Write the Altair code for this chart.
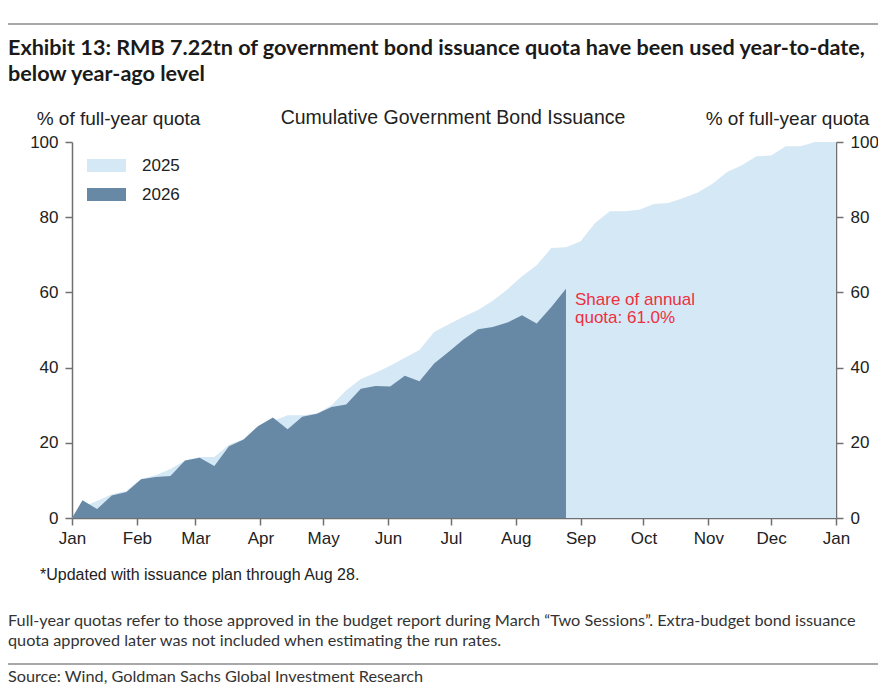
import altair as alt
import pandas as pd

# ---------------- data ----------------
week_dates = ["01-01", "01-06", "01-13", "01-20", "01-27", "02-03", "02-10", "02-17", "02-24",
              "03-03", "03-10", "03-17", "03-24", "03-31", "04-07", "04-14", "04-21", "04-28",
              "05-05", "05-12", "05-19", "05-26", "06-02", "06-09", "06-16", "06-23", "06-30",
              "07-07", "07-14", "07-21", "07-28", "08-04", "08-11", "08-18", "08-25", "09-01",
              "09-08", "09-15", "09-22", "09-29", "10-06", "10-13", "10-20", "10-27", "11-03",
              "11-10", "11-17", "11-24", "12-01", "12-08", "12-15", "12-22", "12-29"]

vals_2025 = [0, 3.0, 4.5, 6.3, 7.2, 10.4, 11.4, 13.0, 15.3,
             16.2, 16.2, 19.5, 21.0, 24.5, 25.8, 27.3, 27.3, 27.8,
             30.0, 34.0, 37.0, 38.6, 40.5, 42.6, 44.7, 49.5, 51.5,
             53.5, 55.3, 57.8, 60.8, 64.3, 67.2, 71.8, 72.0, 73.6,
             78.5, 81.6, 81.6, 82.0, 83.5, 83.8, 85.1, 86.6, 88.9,
             92.0, 93.8, 96.2, 96.4, 98.9, 98.9, 100.0, 100.0,
             100.0]  # last value: Jan 1 of the following year

vals_2026 = [0, 4.7, 2.4, 6.0, 6.9, 10.3, 10.9, 11.2, 15.3,
             16.0, 13.8, 19.1, 20.9, 24.5, 26.7, 23.6, 26.9, 27.7,
             29.5, 30.2, 34.4, 35.1, 35.0, 37.8, 36.4, 41.1, 44.2,
             47.5, 50.2, 50.8, 52.0, 53.9, 51.7, 56.1, 61.0]

series_names = ["2025", "2026"]
month_tick_dates = ["2025-%02d-01" % m for m in range(1, 13)] + ["2026-01-01"]

# ---------------- styles ----------------
LIGHT = "#d5e8f6"
DARK = "#6889a6"
AXIS_GREY = "#707070"
CHART_FONT = "Liberation Sans"
DOC_FONT = "Lato"

dates_2025 = ["2025-" + d for d in week_dates] + ["2026-01-01"]
dates_2026 = ["2025-" + d for d in week_dates[:len(vals_2026)]]

df = pd.DataFrame({
    "date": dates_2025 + dates_2026,
    "value": vals_2025 + vals_2026,
    "series": ["2025"] * len(vals_2025) + ["2026"] * len(vals_2026),
})

tick_ms = [int(pd.Timestamp(d, tz="UTC").value // 10**6) for d in month_tick_dates]

W, H = 764, 376

x_enc = alt.X(
    "date:T",
    title=None,
    scale=alt.Scale(type="utc", domain=[tick_ms[0], tick_ms[-1]]),
    axis=alt.Axis(
        values=tick_ms,
        labelExpr="utcFormat(datum.value, '%b')",
        labelFlush=False, grid=False,
        tickSize=7, tickWidth=1.5, tickColor=AXIS_GREY, domainColor=AXIS_GREY,
        domainWidth=1.5, labelPadding=5, labelFont=CHART_FONT, labelFontSize=17,
        labelColor="#222222",
    ),
)

color_enc = alt.Color(
    "series:N",
    scale=alt.Scale(domain=series_names, range=[LIGHT, DARK]),
    legend=alt.Legend(
        title=None, orient="none", legendX=26, legendY=15,
        symbolType="M-3,-1H3V1H-3Z", symbolSize=169, symbolStrokeWidth=0,
        symbolOpacity=1, labelOffset=27, rowPadding=11, padding=0,
        labelFont=CHART_FONT, labelFontSize=17, labelColor="#222222",
    ),
)


def y_enc(orient, title_x):
    return alt.Y(
        "value:Q",
        scale=alt.Scale(domain=[0, 100], nice=False),
        axis=alt.Axis(
            orient=orient, values=[0, 20, 40, 60, 80, 100], grid=False,
            title="% of full-year quota", titleAngle=0, titleX=title_x, titleY=-18,
            titleAlign="center", titleBaseline="alphabetic", titleFont=CHART_FONT,
            titleFontSize=19, titleFontWeight="normal", titleColor="#222222",
            tickSize=7, tickWidth=1.5, tickColor=AXIS_GREY, domainColor=AXIS_GREY,
            domainWidth=1.5, labelPadding=7, labelFont=CHART_FONT, labelFontSize=17,
            labelColor="#222222",
        ),
    )


base = alt.Chart(df)
area_2025 = base.transform_filter(alt.datum.series == "2025").mark_area(
    interpolate="linear", opacity=1
).encode(x=x_enc, y=y_enc("right", -49), color=color_enc)

area_2026 = base.transform_filter(alt.datum.series == "2026").mark_area(
    interpolate="linear", opacity=1
).encode(x=x_enc, y=y_enc("left", 46), color=color_enc)

one = pd.DataFrame({"k": [0]})


def txt(s, x, y, size, font=CHART_FONT, weight="normal", color="#222222", align="left"):
    return alt.Chart(one).mark_text(
        align=align, baseline="alphabetic", font=font, fontSize=size,
        fontWeight=weight, color=color,
    ).encode(x=alt.value(x), y=alt.value(y), text=alt.value(s))


def hrule(y):
    return alt.Chart(one).mark_rule(color="#a8a8a8", strokeWidth=2).encode(
        x=alt.value(-64), x2=alt.value(806), y=alt.value(y))


layers = [
    area_2025,
    area_2026,
    hrule(-118),
    txt("Exhibit 13: RMB 7.22tn of government bond issuance quota have been used year-to-date,",
        -64, -87, 21.6, DOC_FONT, "bold", "#1a1a1a"),
    txt("below year-ago level", -64, -61, 21.6, DOC_FONT, "bold", "#1a1a1a"),
    txt("Cumulative Government Bond Issuance", 381, -18, 19.5, align="center"),
    txt("Share of annual", 503, 163, 17, color="#ee3040"),
    txt("quota: 61.0%", 503, 181, 17, color="#ee3040"),
    txt("*Updated with issuance plan through Aug 28.", -32, 438, 16),
    txt("Full-year quotas refer to those approved in the budget report during March \u201cTwo Sessions\u201d. "
        "Extra-budget bond issuance", -64, 484, 16.25, DOC_FONT, "normal", "#333333"),
    txt("quota approved later was not included when estimating the run rates.",
        -64, 504, 16.25, DOC_FONT, "normal", "#333333"),
    hrule(522),
    txt("Source: Wind, Goldman Sachs Global Investment Research", -64, 540, 16.25,
        DOC_FONT, "normal", "#333333"),
]

chart = alt.layer(*layers).resolve_scale(y="independent").properties(
    width=W, height=H,
    padding={"left": 64, "top": 134, "right": 42, "bottom": 166},
    autosize=alt.AutoSizeParams(type="none"),
    background="white",
).configure_view(stroke=None)

chart.save("out.html", embed_options={"renderer": "svg", "actions": False})
